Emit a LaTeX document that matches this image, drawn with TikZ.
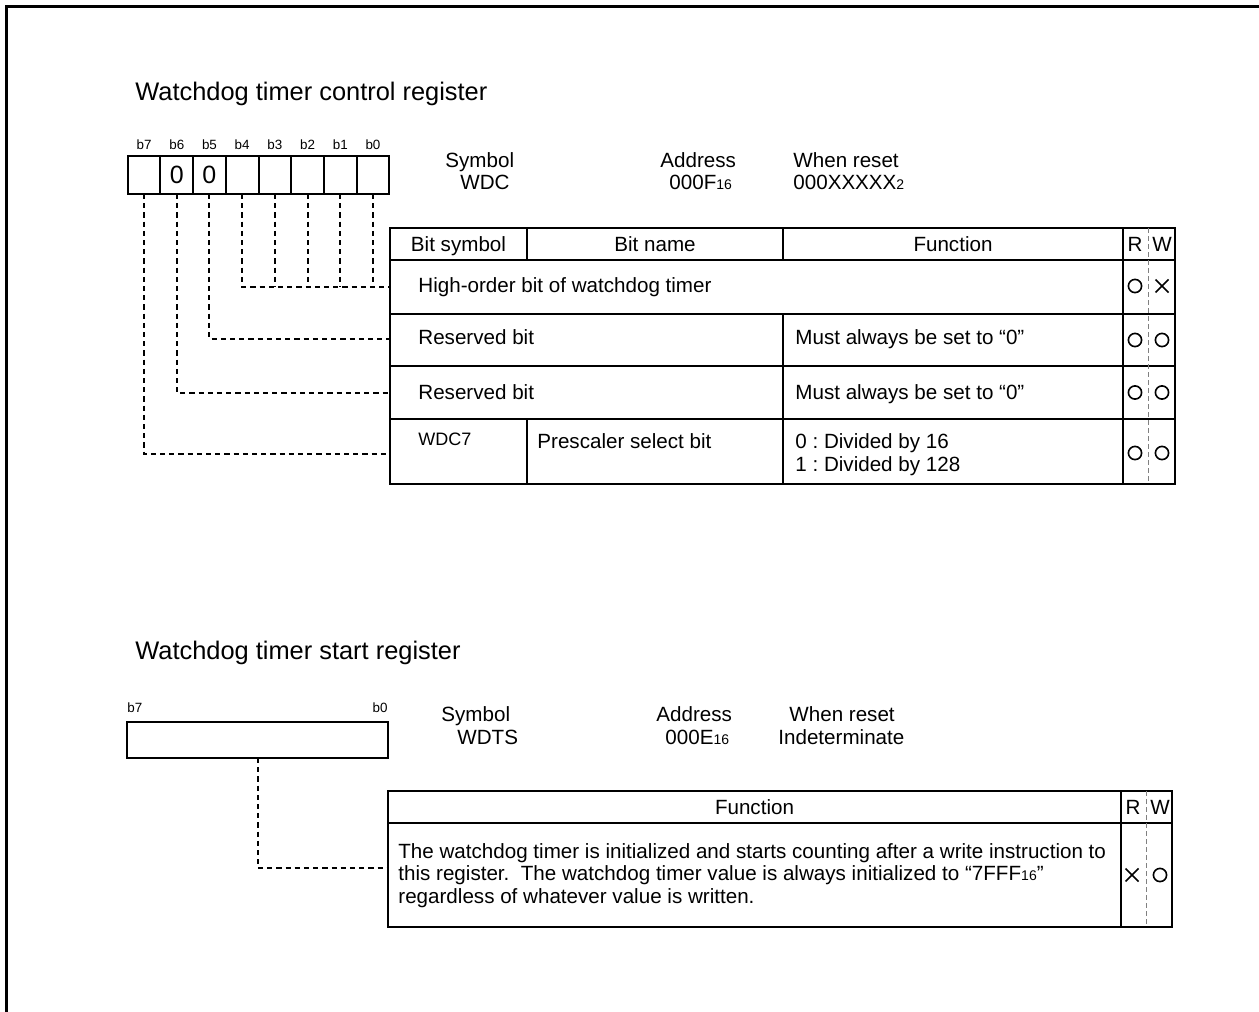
\documentclass[tikz,border=0pt]{standalone}
\usepackage{fontspec}
\setmainfont{Liberation Sans}
\frenchspacing
\newcommand{\subsc}[1]{{\fontsize{7}{8}\selectfont #1}}
\begin{document}
\begin{tikzpicture}[x=0.5pt,y=-0.5pt,
  frame/.style={line width=1.5pt},
  tbl/.style={line width=1pt},
  conn/.style={line width=1pt, dash pattern=on 2.6pt off 2pt},
  rwdiv/.style={gray, line width=0.5pt, dash pattern=on 2.5pt off 1.5pt},
  sym/.style={line width=0.8pt},
  cell/.style={draw, line width=1pt, minimum width=16.35pt, minimum height=19pt, inner sep=0pt, outer sep=0pt, anchor=north west, font=\fontsize{12}{14}\selectfont},
  txt/.style={anchor=base west, inner sep=0pt, font=\fontsize{10.3}{12}\selectfont},
  ctxt/.style={anchor=base, inner sep=0pt, font=\fontsize{10.3}{12}\selectfont},
  ttl/.style={anchor=base west, inner sep=0pt, font=\fontsize{12.7}{15}\selectfont},
  bitlbl/.style={anchor=base, inner sep=0pt, font=\fontsize{6.7}{8}\selectfont},
  smalltxt/.style={anchor=base west, inner sep=0pt, font=\fontsize{9}{11}\selectfont}]
\useasboundingbox (0,0) rectangle (1259,1012);
\draw[frame] (1259,6) -- (6,6) -- (6,1012);

% ---------- Watchdog timer control register ----------
\node[ttl] (title1) at (135,100) {Watchdog timer control register};

\foreach \i/\n in {0/7,1/6,2/5,3/4,4/3,5/2,6/1,7/0}{
  \node[cell] (c\n) at ({127.7+32.7*\i},156) {};
  \node[bitlbl] (l\n) at ({127.7+32.7*\i+16.35},149) {b\n};
}
\node[inner sep=0pt, font=\fontsize{12.5}{14}\selectfont] (z6) at (c6) {0};
\node[inner sep=0pt, font=\fontsize{12.5}{14}\selectfont] (z5) at (c5) {0};

\node[txt] (sy1) at (445,167.5) {Symbol};
\node[txt] (sy2) at (460,189) {WDC};
\node[txt] (ad1) at (660,167.5) {Address};
\node[txt] (ad2) at (669,189) {000F\subsc{16}};
\node[txt] (wr1) at (793,167.5) {When reset};
\node[txt] (wr2) at (793,189) {000XXXXX\subsc{2}};

% table 1
\draw[tbl] (390,228) rectangle (1175,484);
\draw[tbl] (390,260) -- (1175,260);
\draw[tbl] (390,314) -- (1175,314);
\draw[tbl] (390,366) -- (1175,366);
\draw[tbl] (390,419) -- (1175,419);
\draw[tbl] (527,228) -- (527,260) (527,419) -- (527,484);
\draw[tbl] (783,228) -- (783,260) (783,314) -- (783,484);
\draw[tbl] (1123,228) -- (1123,484);
\draw[rwdiv] (1148,228) -- (1148,484);

\node[ctxt] (h1) at (458.5,251) {Bit symbol};
\node[ctxt] (h2) at (655,251) {Bit name};
\node[ctxt] (h3) at (953,251) {Function};
\node[ctxt] (hr) at (1135,251) {R};
\node[ctxt] (hw) at (1162,251) {W};

\node[txt] (row1) at (418,292) {High-order bit of watchdog timer};
\node[txt] (row2a) at (418,344.5) {Reserved bit};
\node[txt] (row2b) at (795,344.5) {Must always be set to “0”};
\node[txt] (row3a) at (418,399) {Reserved bit};
\node[txt] (row3b) at (795,399) {Must always be set to “0”};
\node[smalltxt] (row4a) at (418,445) {WDC7};
\node[txt] (row4b) at (537,448) {Prescaler select bit};
\node[txt] (row4c) at (795,448) {0 : Divided by 16};
\node[txt] (row4d) at (795,471) {1 : Divided by 128};

% R/W marks table 1
\draw[sym] (1135,286) circle[radius=3.3pt];
\draw[sym] (1155.5,279.5) -- (1168.5,292.5) (1155.5,292.5) -- (1168.5,279.5);
\draw[sym] (1135,340) circle[radius=3.3pt];
\draw[sym] (1162,340) circle[radius=3.3pt];
\draw[sym] (1135,392.5) circle[radius=3.3pt];
\draw[sym] (1162,392.5) circle[radius=3.3pt];
\draw[sym] (1135,453) circle[radius=3.3pt];
\draw[sym] (1162,453) circle[radius=3.3pt];

% connectors
\coordinate (r1) at (390,287);
\coordinate (r2) at (390,339);
\coordinate (r3) at (390,393);
\coordinate (r4) at (390,454);
\draw[conn] (c7.south) |- (r4);
\draw[conn] (c6.south) |- (r3);
\draw[conn] (c5.south) |- (r2);
\draw[conn] (c4.south) |- (r1);
\foreach \n in {3,2,1,0}{
  \draw[conn] (c\n.south) -- (c\n.south |- r1);
}

% ---------- Watchdog timer start register ----------
\node[ttl] (title2) at (135,659) {Watchdog timer start register};
\node[draw, line width=1pt, minimum width=130.5pt, minimum height=18pt, anchor=north west, inner sep=0pt, outer sep=0pt] (reg) at (127,722) {};
\node[bitlbl, anchor=base west] (m7) at (127,712) {b7};
\node[bitlbl, anchor=base east] (m0) at (388,712) {b0};

\node[txt] (sy3) at (441,721) {Symbol};
\node[txt] (sy4) at (457,744) {WDTS};
\node[txt] (ad3) at (656,721) {Address};
\node[txt] (ad4) at (665,744) {000E\subsc{16}};
\node[txt] (wr3) at (789,721) {When reset};
\node[txt] (wr4) at (778,744) {Indeterminate};

\draw[tbl] (388,791) rectangle (1172,927);
\draw[tbl] (388,823) -- (1172,823);
\draw[tbl] (1121,791) -- (1121,927);
\draw[rwdiv] (1146,791) -- (1146,927);

\node[ctxt] (h4) at (754.5,814) {Function};
\node[ctxt] (hr2) at (1133,814) {R};
\node[ctxt] (hw2) at (1160,814) {W};

\node[txt] (b1) at (398,858) {The watchdog timer is initialized and starts counting after a write instruction to};
\node[txt] (b2) at (398,880.5) {this register.\ \ The watchdog timer value is always initialized to “7FFF\subsc{16}”};
\node[txt] (b3) at (398,903) {regardless of whatever value is written.};

\draw[sym] (1125.5,868.5) -- (1138.5,881.5) (1125.5,881.5) -- (1138.5,868.5);
\draw[sym] (1160,875) circle[radius=3.3pt];

\coordinate (f1) at (388,868);
\draw[conn] (reg.south) |- (f1);
\end{tikzpicture}
\end{document}
